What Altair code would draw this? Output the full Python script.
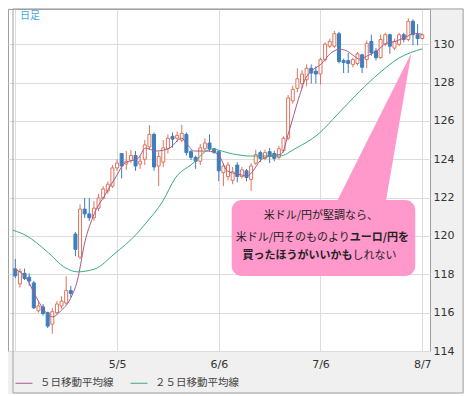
import altair as alt
import pandas as pd

# ---------------- data ----------------
idx = list(range(-22, 67))  # trading-day index, 0 = 5/5
opens = [118.28, 117.5, 118.05, 117.85, 117.55, 116.1, 116.3, 116.0, 115.4, 116.0,
         116.35, 116.5, 117.15, 120.1, 118.9, 121.4, 121.15, 120.95, 121.45, 121.98,
         122.35, 122.6, 123.55, 124.3, 123.75, 123.95, 124.2, 123.75, 124.0, 124.65,
         125.3, 123.65, 123.85, 124.55, 125.2, 125.1, 125.0, 125.3, 124.4, 124.1,
         123.9, 124.55, 124.85, 124.55, 124.4, 123.3, 123.1, 122.9, 123.7, 123.1,
         123.4, 122.95, 123.8, 124.35, 124.05, 124.4, 124.3, 124.1, 124.45, 125.1,
         127.05, 127.7, 127.95, 128.15, 128.75, 128.6, 128.45, 129.2, 129.9, 129.9,
         130.55, 129.15, 129.15, 128.95, 129.0, 129.45, 129.2, 130.15, 129.65, 129.3,
         130.0, 130.5, 129.8, 130.0, 130.5, 130.25, 131.2, 130.5, 130.3]
closes = [117.92, 118.15, 117.78, 117.65, 116.25, 116.35, 115.95, 115.3, 116.05, 116.45,
          116.6, 117.15, 117.0, 119.3, 121.4, 121.15, 120.95, 121.45, 121.98, 122.45,
          122.7, 123.55, 123.8, 123.65, 123.9, 124.2, 123.65, 123.9, 124.75, 125.3,
          123.6, 124.15, 124.6, 125.1, 125.05, 125.25, 125.35, 124.35, 124.1, 123.9,
          124.6, 124.85, 124.55, 124.35, 123.4, 123.65, 123.7, 123.35, 123.1, 123.45,
          123.05, 123.65, 124.25, 124.05, 124.35, 124.15, 124.05, 124.55, 125.1, 127.2,
          127.65, 128.2, 128.45, 128.75, 128.5, 128.45, 129.2, 130.0, 130.15, 130.55,
          129.1, 129.05, 129.0, 129.2, 129.5, 128.8, 130.05, 129.55, 129.3, 130.25,
          130.5, 129.9, 130.15, 130.5, 130.25, 131.2, 130.5, 130.3, 130.5]
highs = [118.8, 118.3, 118.3, 118.05, 117.65, 116.55, 116.45, 116.05, 116.25, 116.6,
         116.85, 117.9, 117.4, 120.2, 121.65, 121.98, 121.98, 121.82, 122.2, 122.6,
         122.85, 123.7, 124.0, 124.33, 124.43, 124.5, 124.43, 124.2, 125.0, 125.78,
         125.4, 124.4, 125.0, 125.3, 125.4, 125.45, 125.8, 125.4, 124.5, 124.2,
         124.8, 125.1, 125.3, 124.6, 124.45, 123.8, 123.85, 123.6, 123.85, 123.6,
         123.5, 123.8, 124.5, 124.45, 124.5, 124.6, 124.45, 124.7, 125.2, 127.35,
         127.85, 128.75, 128.65, 128.95, 128.95, 128.85, 129.3, 130.1, 130.3, 130.7,
         130.65, 129.25, 129.55, 129.3, 129.6, 129.5, 130.2, 130.5, 129.8, 130.5,
         130.6, 130.55, 130.3, 130.6, 130.6, 131.35, 131.3, 131.05, 130.55]
lows = [117.8, 117.3, 117.7, 117.4, 116.2, 116.0, 115.85, 115.2, 114.9, 115.9,
        116.2, 116.4, 116.8, 118.95, 118.8, 120.94, 120.78, 120.8, 121.3, 121.9,
        122.2, 122.5, 123.4, 123.0, 123.45, 123.8, 123.4, 123.5, 123.7, 124.5,
        123.4, 122.6, 123.6, 124.3, 124.6, 124.9, 124.9, 124.2, 123.95, 123.5,
        123.7, 124.45, 124.4, 124.3, 122.86, 122.6, 122.9, 122.7, 122.8, 123.0,
        122.85, 122.35, 123.7, 123.85, 123.95, 123.8, 123.9, 124.0, 124.35, 125.0,
        126.9, 127.5, 127.7, 127.8, 127.95, 127.95, 127.9, 129.1, 129.8, 129.8,
        129.0, 128.5, 128.5, 128.8, 128.9, 128.5, 128.75, 129.4, 129.15, 129.25,
        129.9, 129.5, 129.7, 129.9, 130.1, 130.15, 129.95, 129.95, 130.25]

ma5_idx = [-22.5, -19.5, -17.4, -15.3, -13.9, -12.2, -10.1, -8.6, -6.9, -5.3, -2.5, -0.4,
           1.7, 4.6, 6.1, 8.4, 11.3, 14.0, 15.1, 16.8, 19.7, 21.8, 23.9, 26.1, 28.2, 29.4,
           30.9, 33.0, 35.5, 37.2, 39.3, 40.8, 42.0, 44.1, 46.2, 48.1, 49.8, 51.3, 52.5,
           54.0, 56.1, 58.2, 60.3, 62.8, 64.5, 66.0]
ma5_val = [118.3, 117.76, 116.77, 115.99, 115.78, 116.09, 116.72, 117.66, 119.74, 120.94,
           122.19, 123.02, 123.8, 124.06, 124.58, 124.43, 124.58, 125.1, 124.79, 124.43,
           124.43, 124.27, 123.39, 123.23, 123.13, 123.39, 123.91, 124.17, 124.27, 125.47,
           127.19, 128.23, 128.59, 128.96, 129.53, 129.74, 129.64, 129.38, 129.22, 129.38,
           129.64, 130.05, 130.16, 130.42, 130.57, 130.52]
ma25_idx = [-22.5, -19.5, -15.3, -11.1, -8.6, -4.8, -0.6, 4.2, 6.1, 9.9, 12.6, 16.2, 20.4,
            25.2, 28.8, 35.1, 38.7, 43.5, 47.7, 52.5, 56.7, 60.9, 66.0]
ma25_val = [120.3, 120.0, 119.22, 118.33, 118.13, 118.28, 119.06, 120.1, 120.63, 121.82,
            123.02, 123.75, 124.53, 124.27, 124.17, 124.17, 124.58, 125.31, 126.35, 127.55,
            128.49, 129.27, 129.76]

series_names = ["５日移動平均線", "２５日移動平均線"]
series_colors = ["#a85a86", "#3caa7c"]
up_color = "#e0735c"
down_color = "#3d7ebf"

tick_idx = [-22, 0, 22, 44, 66]
tick_lab = ["", "5/5", "6/6", "7/6", "8/7"]
price_ticks = [114, 116, 118, 120, 122, 124, 126, 128, 130]

note_lines = ["米ドル/円が堅調なら、", "米ドル/円そのものより", "ユーロ/円を",
              "買ったほうがいいかも", "しれない"]
note_x = [44.1, 50.35, 50.35, 50.9, 50.9]
note_y = [121.04, 119.89, 119.89, 118.96, 118.96]
note_align = ["center", "right", "left", "right", "left"]
note_bold = [False, False, True, True, False]

box_x = [24.8, 64.49]
box_y = [117.91, 121.88]
ptr_y = [121.56, 129.54]
ptr_x0 = [47.05, 63.65]
ptr_x1 = [57.97, 63.65]

corner_text = ["日足"]
corner_x = [-21.0]
corner_y = [131.5]

X_DOMAIN = [-22.5, 66.6]
Y_DOMAIN = [114, 131.84]
frame_x = [-22.5, 74.84]
frame_y = [111.81, 131.84]

# ---------------- tables ----------------
candles = pd.DataFrame({"i": idx, "o": opens, "h": highs, "l": lows, "c": closes})
candles["dir"] = ["up" if c >= o else "down" for o, c in zip(opens, closes)]

ma = pd.concat([
    pd.DataFrame({"i": ma5_idx, "v": ma5_val, "s": series_names[0]}),
    pd.DataFrame({"i": ma25_idx, "v": ma25_val, "s": series_names[1]}),
])

frame = pd.DataFrame({
    "x": [frame_x[0], frame_x[0], frame_x[1], frame_x[0]],
    "x2": [frame_x[1], frame_x[1], frame_x[1], frame_x[0]],
    "y": [frame_y[1], frame_y[0], frame_y[0], frame_y[0]],
    "y2": [frame_y[1], frame_y[0], frame_y[1], frame_y[1]],
})

label_expr = " : ".join(f"datum.value == {v} ? '{l}'" for v, l in zip(tick_idx, tick_lab)) + " : ''"

xs = alt.Scale(domain=X_DOMAIN, nice=False, zero=False)
ys = alt.Scale(domain=Y_DOMAIN, nice=False, zero=False)
AX_FONT = "DejaVu Sans"
xaxis = alt.Axis(values=tick_idx, labelExpr=label_expr, title=None, grid=True,
                 gridColor="#dcdcdc", domain=False, ticks=False, labelPadding=7,
                 labelFlush=False, labelFont=AX_FONT, labelFontSize=11, labelColor="#333333")
yaxis = alt.Axis(orient="right", values=price_ticks, title=None, grid=True,
                 gridColor="#dcdcdc", domain=False, ticks=False, labelPadding=3,
                 labelAlign="left", labelFont=AX_FONT, labelFontSize=11, labelColor="#333333")


def X(f):
    return alt.X(f, type="quantitative", scale=xs, axis=xaxis)


def Y(f):
    return alt.Y(f, type="quantitative", scale=ys, axis=yaxis)


dir_scale_fill = alt.Scale(domain=["up", "down"], range=["white", down_color])
dir_scale_stroke = alt.Scale(domain=["up", "down"], range=[up_color, down_color])

base = alt.Chart(candles)
wicks = base.mark_rule(strokeWidth=1).encode(
    x=X("i"), y=Y("l"), y2=alt.Y2("h"),
    stroke=alt.Stroke("dir:N", scale=dir_scale_stroke, legend=None),
)
bodies = base.mark_bar(size=3, strokeWidth=1).encode(
    x=X("i"), y=Y("o"), y2=alt.Y2("c"),
    fill=alt.Fill("dir:N", scale=dir_scale_fill, legend=None),
    stroke=alt.Stroke("dir:N", scale=dir_scale_stroke, legend=None),
)

lines = alt.Chart(ma).mark_line(interpolate="monotone", strokeWidth=1).encode(
    x=X("i"), y=Y("v"),
    color=alt.Color("s:N", scale=alt.Scale(domain=series_names, range=series_colors),
                    sort=series_names,
                    legend=alt.Legend(title=None, orient="none", legendX=7, legendY=365,
                                      direction="horizontal", symbolType="stroke",
                                      symbolSize=289, symbolStrokeWidth=1,
                                      labelFont="Noto Sans CJK JP", labelFontSize=10.5,
                                      labelColor="#444444", labelOffset=7,
                                      columnPadding=14, padding=0)),
)

PINK = "#ff99cc"
box = alt.Chart(pd.DataFrame({"x": [box_x[0]], "x2": [box_x[1]], "y": [box_y[0]], "y2": [box_y[1]]})).mark_rect(
    cornerRadius=10, color=PINK).encode(x=X("x"), x2=alt.X2("x2"), y=Y("y"), y2=alt.Y2("y2"))
pointer = alt.Chart(pd.DataFrame({"py": ptr_y, "px0": ptr_x0, "px1": ptr_x1})).mark_area(
    orient="horizontal", color=PINK).encode(y=Y("py"), x=X("px0"), x2=alt.X2("px1"))

notes = pd.DataFrame({"t": note_lines, "x": note_x, "y": note_y, "a": note_align, "b": note_bold})
text_layers = []
for (a, b), g in notes.groupby(["a", "b"]):
    text_layers.append(
        alt.Chart(g).mark_text(align=a, baseline="middle", font="Noto Sans CJK JP", fontSize=11,
                               fontWeight="bold" if b else "normal", color="#222222").encode(
            x=X("x"), y=Y("y"), text="t:N")
    )

corner = alt.Chart(pd.DataFrame({"t": corner_text, "x": corner_x, "y": corner_y})).mark_text(
    align="left", baseline="middle", font="Noto Sans CJK JP", fontSize=10, color="#44aadd").encode(
    x=X("x"), y=Y("y"), text="t:N")

frame_layer = alt.Chart(frame).mark_rule(color="#a0a0a0", strokeWidth=1).encode(
    x=X("x"), x2=alt.X2("x2"), y=Y("y"), y2=alt.Y2("y2"))

chart = alt.layer(
    frame_layer, wicks, bodies, lines, pointer, box, *text_layers, corner
).properties(
    width=422, height=342, background="#f0f0f0", padding=0
).configure_view(
    fill="white", stroke="#a0a0a0", strokeWidth=1
)

chart.save("out.html", embed_options={"renderer": "svg", "actions": False})
